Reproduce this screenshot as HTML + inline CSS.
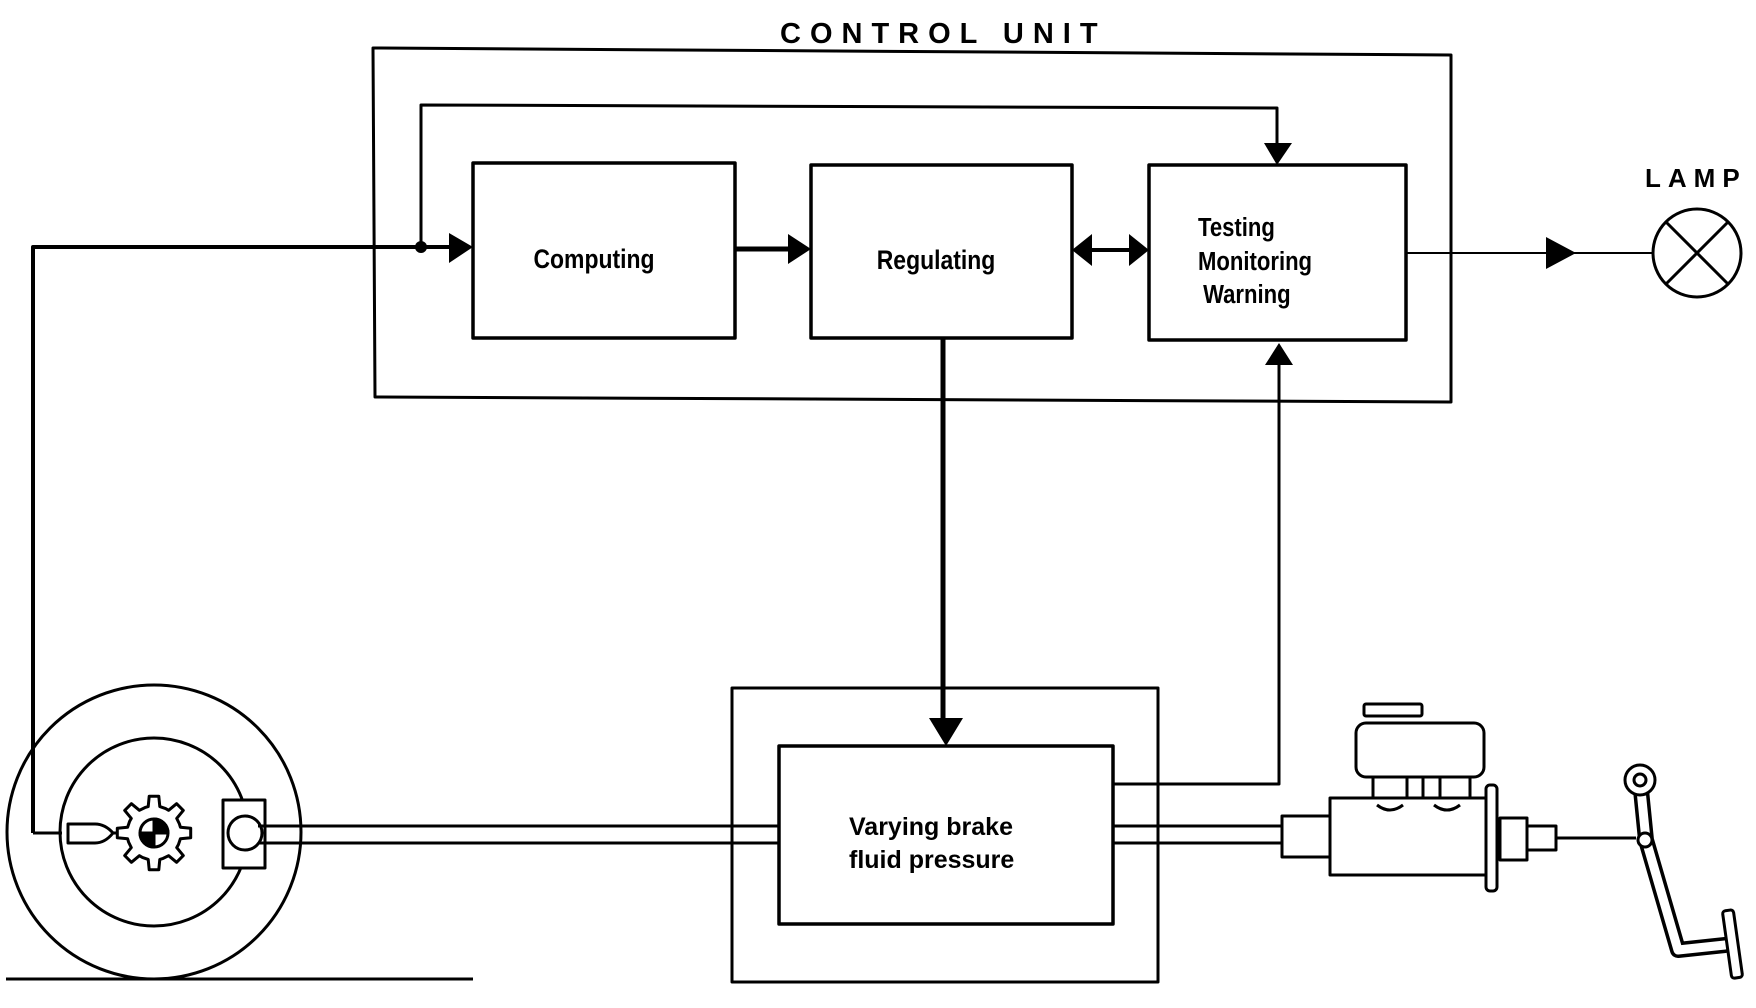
<!DOCTYPE html>
<html><head><meta charset="utf-8"><style>
html,body{margin:0;padding:0;background:#fff;}
svg{display:block;}
text{font-family:"Liberation Sans",sans-serif;fill:#000;}
</style></head><body>
<svg width="1756" height="1008" viewBox="0 0 1756 1008" xmlns="http://www.w3.org/2000/svg">
<g fill="none" stroke="#000" stroke-width="3" stroke-linejoin="round">
<path d="M373,48 L1451,55 L1451,402 L375,397 Z"/>
<rect x="473" y="163" width="262" height="175" stroke-width="3.5"/>
<rect x="811" y="165" width="261" height="173" stroke-width="3.5"/>
<rect x="1149" y="165" width="257" height="175" stroke-width="3.5"/>
<path d="M421,247 L421,105 L1277,108 L1277,150"/>
<path d="M33,833 L33,247 L455,247" stroke-width="4"/>
<path d="M33,833 L62,833" stroke-width="3"/>
<path d="M735,249 L795,249" stroke-width="5"/>
<path d="M1085,250 L1136,250" stroke-width="4"/>
<path d="M943,338 L943,725" stroke-width="5"/>
<path d="M1279,360 L1279,784 L1113,784"/>
<path d="M1406,253 L1653,253" stroke-width="2"/>
<circle cx="1697" cy="253" r="44"/>
<path d="M1666,222 L1728,284 M1728,222 L1666,284"/>
<rect x="732" y="688" width="426" height="294"/>
<rect x="779" y="746" width="334" height="178" fill="#fff" stroke-width="3.5"/>
<path d="M255,826 L779,826 M255,843 L779,843"/>
<path d="M1113,826 L1282,826 M1113,843 L1282,843"/>
<circle cx="154" cy="832" r="147"/>
<circle cx="154" cy="832" r="94"/>
<path d="M6,979 L473,979" stroke-width="3"/>
<rect x="223" y="800" width="42" height="68" fill="#fff"/>
<circle cx="245" cy="833" r="17" fill="#fff"/>
<path d="M258,826 L300,826 M258,843 L300,843"/>
<path d="M68,824 L95,824 Q105,824 113,833 Q105,843 95,843 L68,843 Z" fill="#fff"/>
<path d="M113,833 L122,833"/>
<path id="gear" fill="#fff" d=""/>
<circle cx="154" cy="833" r="14" fill="#fff"/>
<path d="M154,819 A14,14 0 0,1 168,833 L154,833 Z M154,833 L140,833 A14,14 0 0,0 154,847 Z" fill="#000"/>
<rect x="1364" y="704" width="58" height="12" rx="2"/>
<rect x="1356" y="723" width="128" height="54" rx="10"/>
<path d="M1373,777 L1373,798 M1407,777 L1407,798 M1423,777 L1423,798 M1440,777 L1440,798 M1470,777 L1470,798"/>
<path d="M1377,805 Q1390,815 1403,805 M1434,805 Q1447,815 1460,805"/>
<rect x="1330" y="798" width="156" height="77"/>
<rect x="1282" y="816" width="48" height="41"/>
<rect x="1486" y="785" width="11" height="106" rx="4"/>
<rect x="1500" y="818" width="27" height="42"/>
<rect x="1527" y="826" width="29" height="24"/>
<path d="M1556,838 L1636,838" stroke-width="3"/>
<path d="M1640,780 L1646,840 L1678,950 L1725,945" stroke="#000" stroke-width="16" stroke-linecap="round"/>
<path d="M1640,780 L1646,840 L1678,950 L1725,945" stroke="#fff" stroke-width="9" stroke-linecap="round"/>
<circle cx="1640" cy="780" r="15" fill="#fff"/>
<circle cx="1640" cy="780" r="6"/>
<circle cx="1645" cy="840" r="7" fill="#fff"/>
<rect x="1727" y="910" width="11" height="68" rx="3" transform="rotate(-8 1733 944)" fill="#fff"/>
</g>
<g fill="#000">
<polygon points="449,233 473,247 449,263"/>
<circle cx="421" cy="247" r="6"/>
<polygon points="788,234 811,249 788,264"/>
<polygon points="1072,250 1092,234 1092,266"/>
<polygon points="1149,250 1129,234 1129,266"/>
<polygon points="929,718 963,718 946,746"/>
<polygon points="1264,143 1292,143 1277,165"/>
<polygon points="1265,365 1293,365 1279,343"/>
<polygon points="1546,237 1576,253 1546,269"/>
</g>
<text x="780" y="43" font-size="29" font-weight="bold" letter-spacing="9">CONTROL UNIT</text>
<text x="1645" y="187" font-size="26" font-weight="bold" letter-spacing="7">LAMP</text>
<text x="594" y="268" font-size="27" font-weight="bold" text-anchor="middle" transform="translate(594 0) scale(0.85 1) translate(-594 0)">Computing</text>
<text x="936" y="269" font-size="27" font-weight="bold" text-anchor="middle" transform="translate(936 0) scale(0.85 1) translate(-936 0)">Regulating</text>
<text font-size="26" font-weight="bold" transform="translate(1198 0) scale(0.85 1) translate(-1198 0)">
<tspan x="1198" y="236">Testing</tspan>
<tspan x="1198" y="270">Monitoring</tspan>
<tspan x="1204" y="303">Warning</tspan>
</text>
<text font-size="25" font-weight="bold">
<tspan x="849" y="835">Varying brake</tspan>
<tspan x="849" y="868">fluid pressure</tspan>
</text>
</svg>
<script>
(function(){
var cx=154,cy=833,R=37,r=27,n=8,d="";
for(var i=0;i<n;i++){
 var a=i*2*Math.PI/n-Math.PI/2, w=Math.PI/n*0.55;
 var pts=[[r,a-Math.PI/n+0.05],[r,a-w],[R,a-w*0.6],[R,a+w*0.6],[r,a+w]];
 pts.forEach(function(p,k){var x=cx+p[0]*Math.cos(p[1]),y=cy+p[0]*Math.sin(p[1]);d+=(i==0&&k==0?"M":"L")+x.toFixed(1)+","+y.toFixed(1)+" ";});
}
document.getElementById("gear").setAttribute("d",d+"Z");
})();
</script>
</body></html>
